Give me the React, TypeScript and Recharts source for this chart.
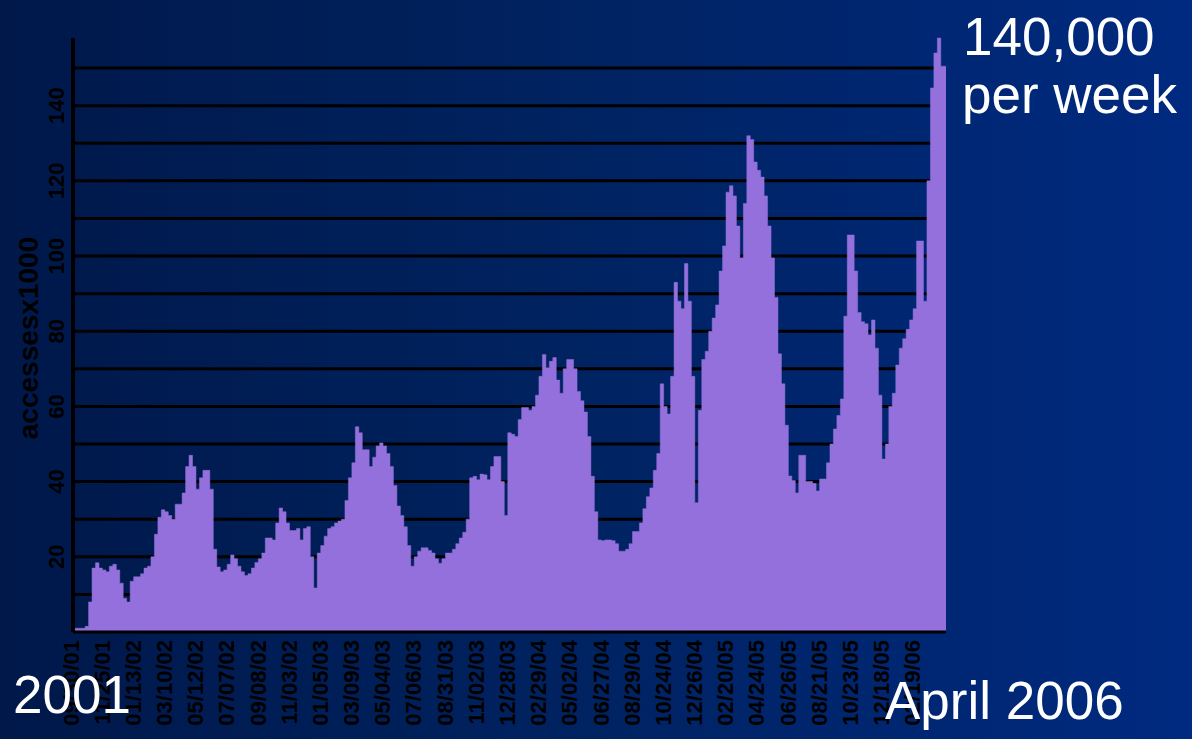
import { AreaChart, Area, XAxis, YAxis, CartesianGrid } from "recharts";

// weekly accesses, thousands
const accesses = [
  1, 1, 1, 1, 1.5, 8, 17, 18.4, 17, 16.5,
  16, 17.5, 18, 16.5, 13, 9, 8, 13.5, 14.7, 14.7,
  15.5, 17, 17.5, 20, 26, 30.5, 32.5, 32, 31, 30,
  34, 34, 37, 44, 47, 44, 38, 41, 43, 43,
  38, 22, 17.3, 16, 16.5, 18, 20.5, 19.5, 17.5, 16,
  15, 15.5, 17, 18.5, 19.5, 21, 25, 25, 24.5, 29,
  33, 32, 29, 27, 27, 27.5, 24.5, 27.5, 28, 20,
  11.7, 21, 23, 25.5, 27.5, 28, 29, 29.5, 30, 35,
  41, 45, 54.6, 53, 48.5, 48.5, 44, 46.5, 49.5, 50.3,
  49.5, 47.5, 44, 39, 33.5, 31, 28, 23, 17.5, 20,
  21.5, 22.4, 22.4, 21.7, 21, 19.5, 18.3, 19.5, 21, 21,
  22, 23.5, 25, 26.5, 30, 41, 41.4, 40.5, 42, 41.8,
  40.5, 44, 46.7, 46.7, 40, 31, 53, 52.6, 52, 56.5,
  59.7, 59.7, 59, 60, 63, 68, 73.8, 70.3, 72, 73,
  67, 63.5, 70, 72.5, 72.5, 70, 64, 61.5, 58.5, 52,
  41.4, 32, 24.5, 24.3, 24.5, 24.5, 24.3, 23.5, 21.5, 21.5,
  22, 23.5, 26.7, 26.7, 29, 32.8, 36, 38.3, 43, 47.5,
  66, 60, 58, 68, 93, 88, 86, 98, 88, 68,
  34.4, 59, 72.5, 74.7, 80, 83.5, 87, 96, 102.7, 117,
  118.7, 116, 108, 99.5, 114, 132, 131, 125, 122.8, 121,
  116, 108, 99.5, 89, 74, 66, 55, 41.5, 40.3, 37,
  47, 47, 40, 40, 39.5, 37.5, 40.7, 40.7, 45, 50,
  54, 57.6, 62, 84, 105.6, 105.6, 96, 85, 82.5, 82,
  79, 83, 75.5, 63, 46, 50, 60, 63.5, 71, 75.5,
  78, 80.5, 83, 86, 104, 104, 88, 120, 144.7, 154,
  158, 150.5, 150.5,
];

const dateLabels = [
  "09/30/01", "11/25/01", "01/13/02", "03/10/02", "05/12/02", "07/07/02",
  "09/08/02", "11/03/02", "01/05/03", "03/09/03", "05/04/03", "07/06/03",
  "08/31/03", "11/02/03", "12/28/03", "02/29/04", "05/02/04", "06/27/04",
  "08/29/04", "10/24/04", "12/26/04", "02/20/05", "04/24/05", "06/26/05",
  "08/21/05", "10/23/05", "12/18/05", "02/19/06",
];

const labelEvery = 9;
const yTicks = [10, 20, 30, 40, 50, 60, 70, 80, 90, 100, 110, 120, 130, 140, 150];

const data = accesses.map((v, i) => ({ i, v }));
const xTicks = dateLabels.map((_, k) => k * labelEvery);

const FONT = "'Liberation Sans', Arial, sans-serif";

const XTick = (props: any) => {
  const { x, payload } = props;
  const label = dateLabels[Math.round(payload.value / labelEvery)];
  return (
    <text
      x={0}
      y={0}
      transform={`translate(${x - 2},640) rotate(-90)`}
      textAnchor="end"
      dominantBaseline="central"
      fontFamily={FONT}
      fontWeight="bold"
      fontSize={22}
      fill="#000"
    >
      {label}
    </text>
  );
};

const YTick = (props: any) => {
  const { y, payload } = props;
  if (payload.value % 20 !== 0 || payload.value > 140) return <g />;
  return (
    <text
      x={0}
      y={0}
      transform={`translate(56,${y}) rotate(-90)`}
      textAnchor="middle"
      dominantBaseline="central"
      fontFamily={FONT}
      fontWeight="bold"
      fontSize={22}
      fill="#000"
    >
      {payload.value}
    </text>
  );
};

const YLabel = () => (
  <text
    x={0}
    y={0}
    transform="translate(28,338) rotate(-90)"
    textAnchor="middle"
    dominantBaseline="central"
    fontFamily={FONT}
    fontWeight="bold"
    fontSize={28}
    fill="#000"
  >
    accessesx1000
  </text>
);

const note = { fontFamily: FONT, fontSize: 53, fill: "#fff" };

export default function App() {
  return (
    <div
      style={{
        position: "absolute",
        left: 0,
        top: 0,
        width: 1192,
        height: 739,
        overflow: "hidden",
        background: "linear-gradient(90deg, #00184a 0%, #00225f 45%, #002a80 100%)",
      }}
    >
      <AreaChart
        width={1192}
        height={739}
        data={data}
        margin={{ top: 38, right: 246, bottom: 7, left: 0 }}
      >
        <CartesianGrid
          vertical={false}
          horizontalValues={yTicks}
          stroke="#000"
          strokeWidth={3}
        />
        <XAxis
          type="number"
          dataKey="i"
          domain={[0, accesses.length - 1]}
          ticks={xTicks}
          interval={0}
          tickLine={false}
          axisLine={{ stroke: "#000", strokeWidth: 3 }}
          tick={<XTick />}
          height={100}
        />
        <YAxis
          type="number"
          domain={[0, 158]}
          ticks={yTicks}
          interval={0}
          width={73}
          tickLine={false}
          axisLine={{ stroke: "#000", strokeWidth: 4 }}
          tick={<YTick />}
          label={<YLabel />}
        />
        <Area
          type="step"
          dataKey="v"
          fill="#9370db"
          fillOpacity={1}
          stroke="#9370db"
          strokeWidth={0.5}
          dot={false}
          activeDot={false}
          isAnimationActive={false}
        />
      </AreaChart>
      <svg
        width={1192}
        height={739}
        style={{ position: "absolute", left: 0, top: 0, pointerEvents: "none" }}
      >
        <text x={963} y={55} {...note}>140,000</text>
        <text x={962} y={113} {...note}>per week</text>
        <text x={13} y={713} {...note}>2001</text>
        <text x={885} y={719} {...note}>April 2006</text>
      </svg>
    </div>
  );
}
